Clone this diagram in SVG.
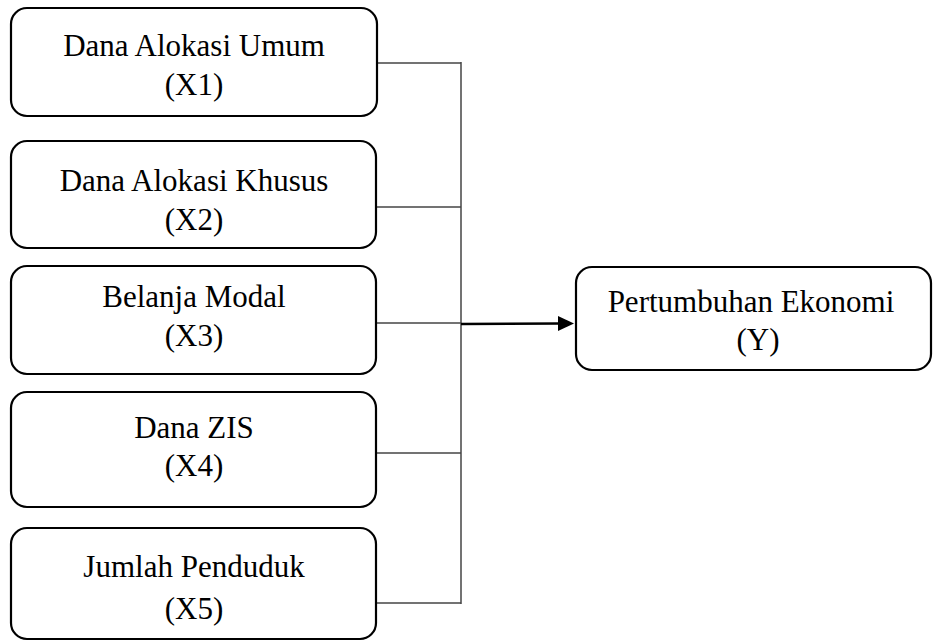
<svg xmlns="http://www.w3.org/2000/svg" width="933" height="641" viewBox="0 0 933 641">
<defs>
<style>
.box{fill:#fff;stroke:#000;stroke-width:2.2}
.t{font-family:"Liberation Serif","Times New Roman",serif;font-size:31px;fill:#000;text-anchor:middle}
.c{fill:none;stroke:#444;stroke-width:1.5}
</style>
</defs>
<g id="connectors">
<line class="c" x1="377" y1="63" x2="461" y2="63"/>
<line class="c" x1="377" y1="207" x2="461" y2="207"/>
<line class="c" x1="377" y1="323" x2="461" y2="323"/>
<line class="c" x1="377" y1="453" x2="461" y2="453"/>
<line class="c" x1="377" y1="603" x2="461" y2="603"/>
<line class="c" x1="461" y1="62" x2="461" y2="604"/>
<path d="M461,324 L560,323.5" fill="none" stroke="#000" stroke-width="2.5"/>
<path d="M558,316 L574,323.5 L558,331 z" fill="#000"/>
</g>
<g id="x1"><rect class="box" x="11" y="8" width="366" height="108" rx="16"/><text class="t" x="194" y="56">Dana Alokasi Umum</text><text class="t" x="194" y="95">(X1)</text></g>
<g id="x2"><rect class="box" x="11" y="141" width="365" height="107" rx="16"/><text class="t" x="194" y="191">Dana Alokasi Khusus</text><text class="t" x="194" y="230">(X2)</text></g>
<g id="x3"><rect class="box" x="11" y="266" width="365" height="108" rx="16"/><text class="t" x="194" y="307">Belanja Modal</text><text class="t" x="194" y="346">(X3)</text></g>
<g id="x4"><rect class="box" x="11" y="392" width="365" height="115" rx="16"/><text class="t" x="194" y="438">Dana ZIS</text><text class="t" x="194" y="476">(X4)</text></g>
<g id="x5"><rect class="box" x="11" y="528" width="365" height="111" rx="16"/><text class="t" x="194" y="577">Jumlah Penduduk</text><text class="t" x="194" y="619">(X5)</text></g>
<g id="y"><rect class="box" x="576" y="267" width="355" height="103" rx="16"/><text class="t" x="751" y="312">Pertumbuhan Ekonomi</text><text class="t" x="758" y="350">(Y)</text></g>
</svg>
